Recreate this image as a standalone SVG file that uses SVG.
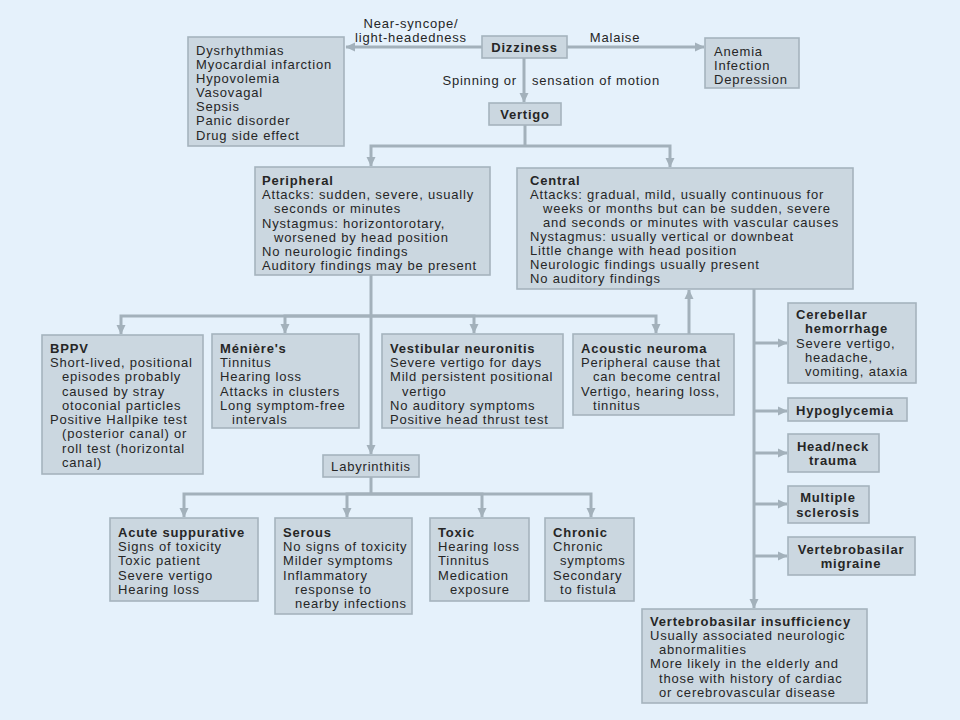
<svg xmlns="http://www.w3.org/2000/svg" width="960" height="720" viewBox="0 0 960 720">
<defs>
<marker id="ah" markerUnits="userSpaceOnUse" markerWidth="10" markerHeight="10" refX="9" refY="5" orient="auto">
<path d="M0,0.5 L9.5,5 L0,9.5 Z" fill="#a3b1bb"/>
</marker>
</defs>
<style>
.bx{fill:#cbd7e0;stroke:#a5b3bd;stroke-width:1.6}
.c{fill:none;stroke:#a3b1bb;stroke-width:3}
.ca{fill:none;stroke:#a3b1bb;stroke-width:3;marker-end:url(#ah)}
text{font-family:"Liberation Sans",Arial,sans-serif;font-size:13px;letter-spacing:0.8px;fill:#262626}
.b{font-weight:bold}
.m{text-anchor:middle}
</style>
<rect width="960" height="720" fill="#e5f1fb"/>
<g id="connectors">
<line class="ca" x1="482" y1="47" x2="346" y2="47"/>
<line class="ca" x1="567" y1="47" x2="704" y2="47"/>
<line class="ca" x1="524" y1="58" x2="524" y2="102"/>
<polyline class="c" points="525,125 525,146"/>
<polyline class="ca" points="525,146 371,146 371,166"/>
<polyline class="ca" points="525,146 670,146 670,167"/>
<line class="ca" x1="371" y1="275" x2="371" y2="454"/>
<polyline class="ca" points="371,316 121,316 121,334"/>
<polyline class="ca" points="371,316 285,316 285,333"/>
<polyline class="ca" points="371,316 474,316 474,333"/>
<polyline class="ca" points="371,316 656,316 656,333"/>
<line class="ca" x1="689" y1="334" x2="689" y2="290"/>
<line class="ca" x1="754" y1="289" x2="754" y2="608"/>
<line class="ca" x1="754" y1="343" x2="787" y2="343"/>
<line class="ca" x1="754" y1="411" x2="787" y2="411"/>
<line class="ca" x1="754" y1="453" x2="787" y2="453"/>
<line class="ca" x1="754" y1="504" x2="787" y2="504"/>
<line class="ca" x1="754" y1="556" x2="787" y2="556"/>
<polyline class="c" points="371,477 371,494"/>
<polyline class="ca" points="371,494 184,494 184,517"/>
<polyline class="ca" points="371,494 347,494 347,517"/>
<polyline class="ca" points="371,494 482,494 482,517"/>
<polyline class="ca" points="371,494 591,494 591,517"/>
</g>
<g id="labels">
<text class="m" x="411" y="28">Near-syncope/</text>
<text class="m" x="411" y="42">light-headedness</text>
<text class="m" x="615" y="42">Malaise</text>
<text x="517" y="85" text-anchor="end">Spinning or</text>
<text x="532" y="85">sensation of motion</text>
</g>
<g id="dizziness">
<rect class="bx" x="482" y="36" width="85" height="22"/>
<text class="b m" x="524.5" y="52">Dizziness</text>
</g>
<g id="nearsyncope">
<rect class="bx" x="188" y="37" width="156" height="109"/>
<text x="196" y="55">Dysrhythmias</text>
<text x="196" y="69">Myocardial infarction</text>
<text x="196" y="83">Hypovolemia</text>
<text x="196" y="97">Vasovagal</text>
<text x="196" y="111">Sepsis</text>
<text x="196" y="125">Panic disorder</text>
<text x="196" y="140">Drug side effect</text>
</g>
<g id="malaise">
<rect class="bx" x="705" y="38" width="94" height="50"/>
<text x="714" y="56">Anemia</text>
<text x="714" y="70">Infection</text>
<text x="714" y="84">Depression</text>
</g>
<g id="vertigo">
<rect class="bx" x="489" y="103" width="72" height="22"/>
<text class="b m" x="525" y="119">Vertigo</text>
</g>
<g id="peripheral">
<rect class="bx" x="255" y="167" width="235" height="108"/>
<text class="b" x="262" y="185">Peripheral</text>
<text x="262" y="199">Attacks: sudden, severe, usually</text>
<text x="274" y="213">seconds or minutes</text>
<text x="262" y="228">Nystagmus: horizontorotary,</text>
<text x="274" y="242">worsened by head position</text>
<text x="262" y="256">No neurologic findings</text>
<text x="262" y="270">Auditory findings may be present</text>
</g>
<g id="central">
<rect class="bx" x="517" y="168" width="336" height="121"/>
<text class="b" x="530" y="185">Central</text>
<text x="530" y="199">Attacks: gradual, mild, usually continuous for</text>
<text x="543" y="213">weeks or months but can be sudden, severe</text>
<text x="543" y="227">and seconds or minutes with vascular causes</text>
<text x="530" y="241">Nystagmus: usually vertical or downbeat</text>
<text x="530" y="255">Little change with head position</text>
<text x="530" y="269">Neurologic findings usually present</text>
<text x="530" y="283">No auditory findings</text>
</g>
<g id="bppv">
<rect class="bx" x="42" y="335" width="161" height="139"/>
<text class="b" x="50" y="353">BPPV</text>
<text x="50" y="367">Short-lived, positional</text>
<text x="62" y="381">episodes probably</text>
<text x="62" y="396">caused by stray</text>
<text x="62" y="410">otoconial particles</text>
<text x="50" y="424">Positive Hallpike test</text>
<text x="62" y="438">(posterior canal) or</text>
<text x="62" y="453">roll test (horizontal</text>
<text x="62" y="467">canal)</text>
</g>
<g id="meniere">
<rect class="bx" x="212" y="334" width="147" height="94"/>
<text class="b" x="220" y="353">Ménière's</text>
<text x="220" y="367">Tinnitus</text>
<text x="220" y="381">Hearing loss</text>
<text x="220" y="396">Attacks in clusters</text>
<text x="220" y="410">Long symptom-free</text>
<text x="232" y="424">intervals</text>
</g>
<g id="vestibular">
<rect class="bx" x="382" y="334" width="181" height="94"/>
<text class="b" x="390" y="353">Vestibular neuronitis</text>
<text x="390" y="367">Severe vertigo for days</text>
<text x="390" y="381">Mild persistent positional</text>
<text x="402" y="396">vertigo</text>
<text x="390" y="410">No auditory symptoms</text>
<text x="390" y="424">Positive head thrust test</text>
</g>
<g id="acoustic">
<rect class="bx" x="573" y="334" width="161" height="81"/>
<text class="b" x="581" y="353">Acoustic neuroma</text>
<text x="581" y="367">Peripheral cause that</text>
<text x="593" y="381">can become central</text>
<text x="581" y="396">Vertigo, hearing loss,</text>
<text x="593" y="410">tinnitus</text>
</g>
<g id="labyrinthitis">
<rect class="bx" x="323" y="455" width="96" height="22"/>
<text class="m" x="371" y="471">Labyrinthitis</text>
</g>
<g id="acute">
<rect class="bx" x="110" y="518" width="148" height="83"/>
<text class="b" x="118" y="537">Acute suppurative</text>
<text x="118" y="551">Signs of toxicity</text>
<text x="118" y="565">Toxic patient</text>
<text x="118" y="580">Severe vertigo</text>
<text x="118" y="594">Hearing loss</text>
</g>
<g id="serous">
<rect class="bx" x="275" y="518" width="137" height="96"/>
<text class="b" x="283" y="537">Serous</text>
<text x="283" y="551">No signs of toxicity</text>
<text x="283" y="565">Milder symptoms</text>
<text x="283" y="580">Inflammatory</text>
<text x="295" y="594">response to</text>
<text x="295" y="608">nearby infections</text>
</g>
<g id="toxic">
<rect class="bx" x="430" y="518" width="99" height="83"/>
<text class="b" x="438" y="537">Toxic</text>
<text x="438" y="551">Hearing loss</text>
<text x="438" y="565">Tinnitus</text>
<text x="438" y="580">Medication</text>
<text x="450" y="594">exposure</text>
</g>
<g id="chronic">
<rect class="bx" x="545" y="518" width="89" height="83"/>
<text class="b" x="553" y="537">Chronic</text>
<text x="553" y="551">Chronic</text>
<text x="560" y="565">symptoms</text>
<text x="553" y="580">Secondary</text>
<text x="560" y="594">to fistula</text>
</g>
<g id="cerebellar">
<rect class="bx" x="788" y="303" width="128" height="80"/>
<text class="b" x="796" y="319">Cerebellar</text>
<text class="b" x="805" y="333">hemorrhage</text>
<text x="796" y="348">Severe vertigo,</text>
<text x="805" y="362">headache,</text>
<text x="805" y="376">vomiting, ataxia</text>
</g>
<g id="hypoglycemia">
<rect class="bx" x="788" y="398" width="119" height="23"/>
<text class="b" x="796" y="415">Hypoglycemia</text>
</g>
<g id="headneck">
<rect class="bx" x="788" y="434" width="91" height="38"/>
<text class="b m" x="833" y="451">Head/neck</text>
<text class="b m" x="833" y="465">trauma</text>
</g>
<g id="ms">
<rect class="bx" x="788" y="486" width="81" height="37"/>
<text class="b m" x="828" y="502">Multiple</text>
<text class="b m" x="828" y="517">sclerosis</text>
</g>
<g id="migraine">
<rect class="bx" x="788" y="537" width="127" height="38"/>
<text class="b m" x="851" y="554">Vertebrobasilar</text>
<text class="b m" x="851" y="568">migraine</text>
</g>
<g id="vbi">
<rect class="bx" x="642" y="609" width="225" height="94"/>
<text class="b" x="650" y="626">Vertebrobasilar insufficiency</text>
<text x="650" y="640">Usually associated neurologic</text>
<text x="659" y="654">abnormalities</text>
<text x="650" y="668">More likely in the elderly and</text>
<text x="659" y="683">those with history of cardiac</text>
<text x="659" y="697">or cerebrovascular disease</text>
</g>
</svg>
